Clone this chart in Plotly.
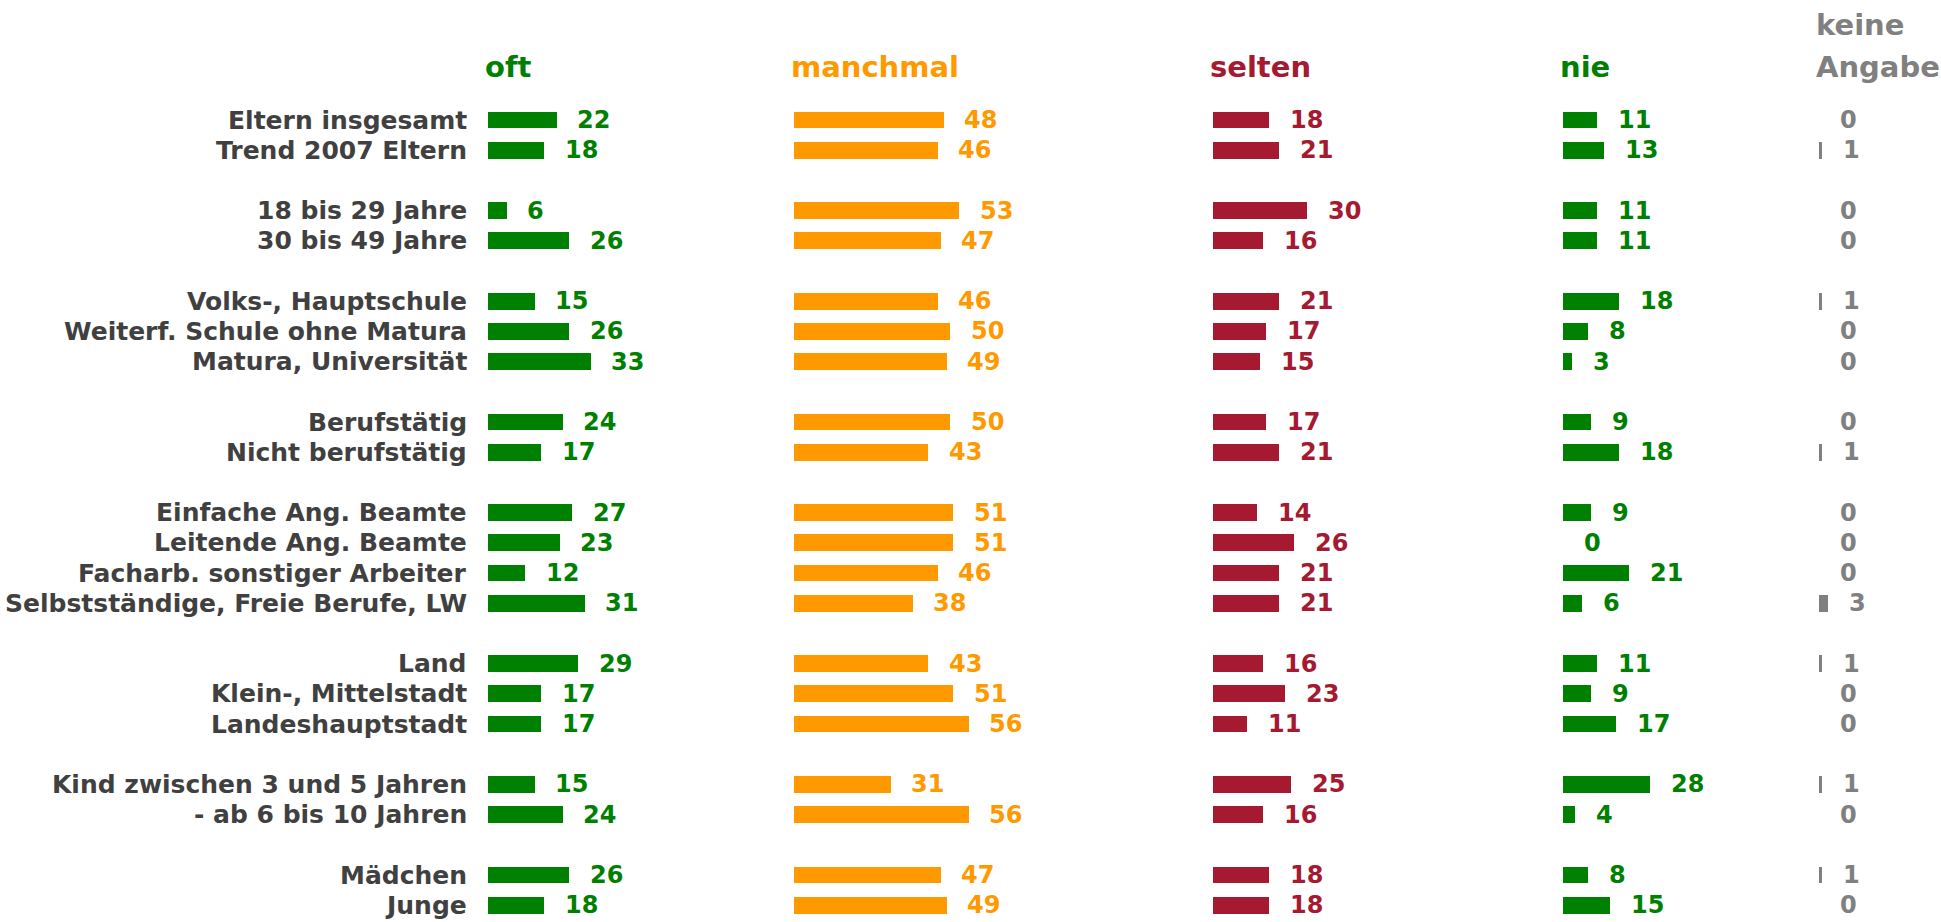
import plotly.graph_objects as go

# Survey breakdown: how often ... (oft / manchmal / selten / nie / keine Angabe), in percent
group_sizes = [2, 2, 3, 2, 4, 3, 2, 2]
labels = [
    "Eltern insgesamt", "Trend 2007 Eltern",
    "18 bis 29 Jahre", "30 bis 49 Jahre",
    "Volks-, Hauptschule", "Weiterf. Schule ohne Matura", "Matura, Universität",
    "Berufstätig", "Nicht berufstätig",
    "Einfache Ang. Beamte", "Leitende Ang. Beamte", "Facharb. sonstiger Arbeiter",
    "Selbstständige, Freie Berufe, LW",
    "Land", "Klein-, Mittelstadt", "Landeshauptstadt",
    "Kind zwischen 3 und 5 Jahren", "- ab 6 bis 10 Jahren",
    "Mädchen", "Junge",
]
oft = [22, 18, 6, 26, 15, 26, 33, 24, 17, 27, 23, 12, 31, 29, 17, 17, 15, 24, 26, 18]
manchmal = [48, 46, 53, 47, 46, 50, 49, 50, 43, 51, 51, 46, 38, 43, 51, 56, 31, 56, 47, 49]
selten = [18, 21, 30, 16, 21, 17, 15, 17, 21, 14, 26, 21, 21, 16, 23, 11, 25, 16, 18, 18]
nie = [11, 13, 11, 11, 18, 8, 3, 9, 18, 9, 0, 21, 6, 11, 9, 17, 28, 4, 8, 15]
keine_angabe = [0, 1, 0, 0, 1, 0, 0, 0, 1, 0, 0, 0, 3, 1, 0, 0, 1, 0, 1, 0]

column_titles = ["oft", "manchmal", "selten", "nie", "Angabe"]
column_values = [oft, manchmal, selten, nie, keine_angabe]

# ---- layout constants (pixels) ----
W, H = 1941, 922
PX_PER_UNIT = 3.12
COL_START = [487.5, 793.5, 1213, 1563, 1819]
COL_SPAN = 240
ROW0_Y = 120
ROW_PITCH = 30.2
COLORS = ["#008000", "#FF9900", "#A51931", "#008000", "#808080"]
FONT = "DejaVu Sans"

# vertical slot of every row: one empty slot between groups
slots = []
s = 0
for size in group_sizes:
    for _ in range(size):
        slots.append(s)
        s += 1
    s += 1

fig = go.Figure()
annotations = []

# row labels, right-aligned just left of the first bar column
for lab, yy in zip(labels, slots):
    annotations.append(dict(
        x=0, y=yy, xref="x domain", yref="y", text=lab,
        showarrow=False, xanchor="right", yanchor="middle", xshift=-19,
        font=dict(family=FONT, size=25, color="#404040", weight="bold"),
    ))

for i, (vals, color) in enumerate(zip(column_values, COLORS)):
    ax = "x" if i == 0 else f"x{i + 1}"
    fig.add_trace(go.Bar(
        x=vals, y=slots, orientation="h",
        marker=dict(color=color, line=dict(width=0)),
        width=0.56, xaxis=ax, yaxis="y",
        hoverinfo="skip", showlegend=False,
    ))
    for v, yy in zip(vals, slots):
        annotations.append(dict(
            x=v, y=yy, xref=ax, yref="y", text=str(v),
            showarrow=False, xanchor="left", yanchor="middle", xshift=19,
            font=dict(family=FONT, size=24, color=color, weight="bold"),
        ))
    annotations.append(dict(
        x=0, y=1 - 67 / H, xref=f"{ax} domain", yref="paper",
        text=column_titles[i], showarrow=False, xanchor="left", yanchor="middle",
        xshift=-5,
        font=dict(family=FONT, size=29, color=color, weight="bold"),
    ))

# upper line of the two-line "keine Angabe" header
annotations.append(dict(
    x=0, y=1 - 25 / H, xref="x5 domain", yref="paper",
    text="keine", showarrow=False, xanchor="left", yanchor="middle", xshift=-5,
    font=dict(family=FONT, size=29, color=COLORS[4], weight="bold"),
))

layout_axes = {}
for i, start in enumerate(COL_START):
    end = min(start + COL_SPAN, W)
    key = "xaxis" if i == 0 else f"xaxis{i + 1}"
    layout_axes[key] = dict(
        domain=[start / W, end / W],
        range=[0, (end - start) / PX_PER_UNIT],
        anchor="y", visible=False, fixedrange=True,
    )

fig.update_layout(
    width=W, height=H,
    margin=dict(l=0, r=0, t=0, b=0),
    paper_bgcolor="white", plot_bgcolor="white",
    bargap=0,
    yaxis=dict(
        range=[(H - ROW0_Y) / ROW_PITCH, -ROW0_Y / ROW_PITCH],
        domain=[0, 1], anchor="x", visible=False, fixedrange=True,
    ),
    annotations=annotations,
    **layout_axes,
)

fig.write_html("out.html")
